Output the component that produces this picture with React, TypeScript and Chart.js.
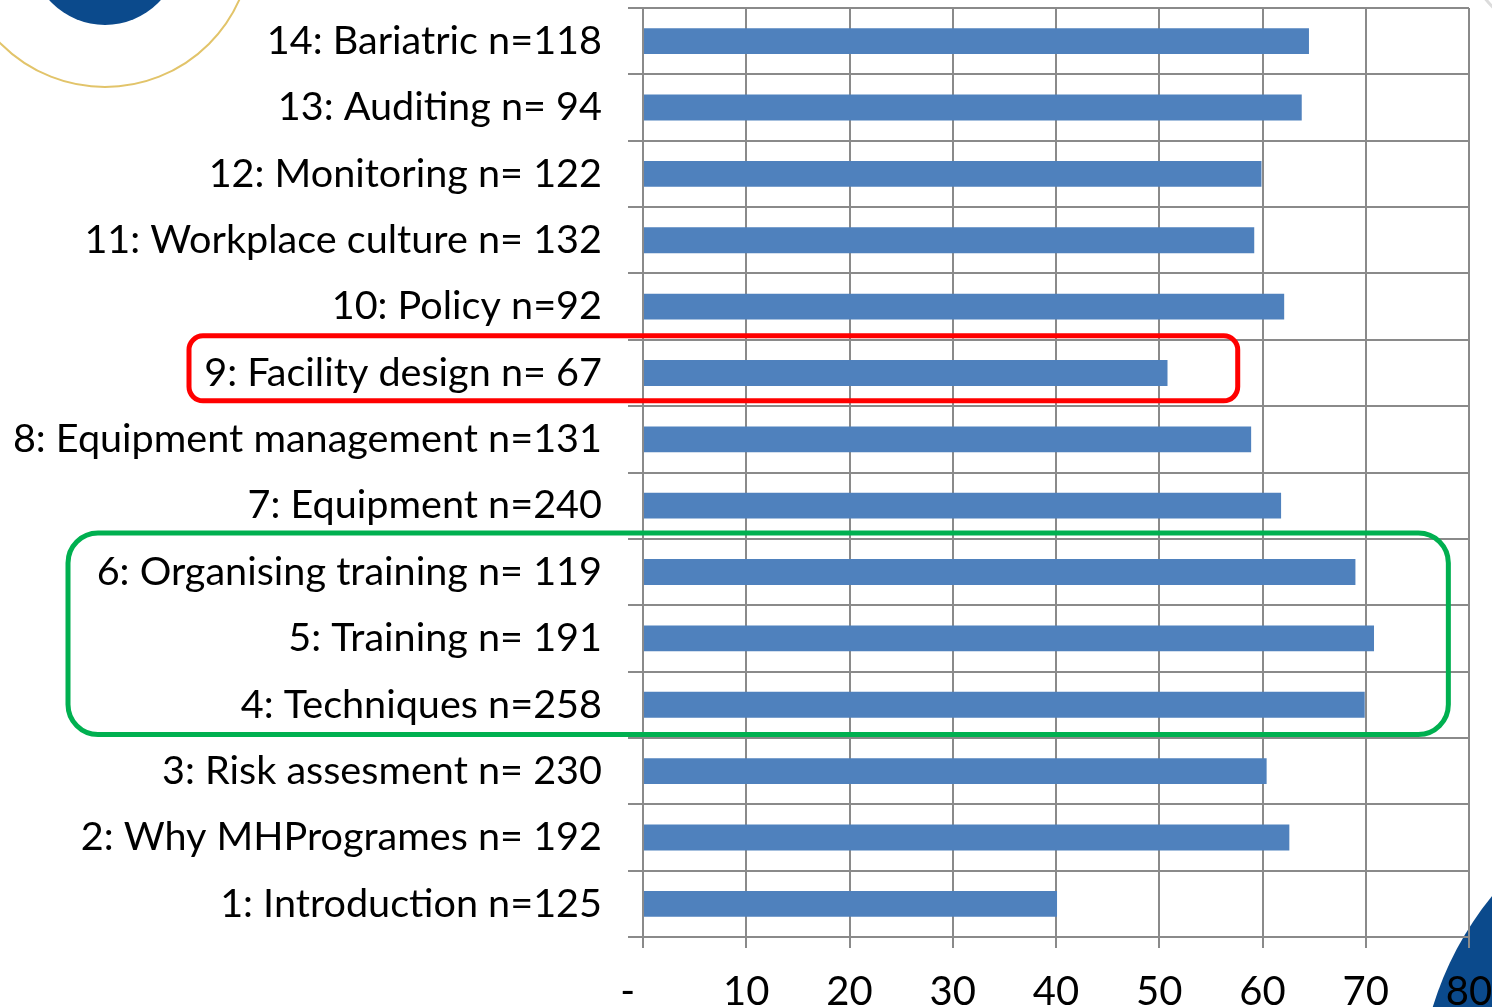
import React, { useEffect, useRef } from "react";
import { Chart, registerables } from "chart.js";

Chart.register(...registerables);

const categories: string[] = [
  "14: Bariatric n=118",
  "13: Auditing n= 94",
  "12: Monitoring n= 122",
  "11: Workplace culture n= 132",
  "10: Policy n=92",
  "9: Facility design n= 67",
  "8: Equipment management n=131",
  "7: Equipment n=240",
  "6: Organising training n= 119",
  "5: Training n= 191",
  "4: Techniques n=258",
  "3: Risk assesment n= 230",
  "2: Why MHProgrames n= 192",
  "1: Introduction n=125",
];

const scores: number[] = [64.5, 63.8, 59.9, 59.2, 62.1, 50.8, 58.9, 61.8, 69.0, 70.8, 69.9, 60.4, 62.6, 40.1];

const xTickLabels: string[] = ["-   ", "10", "20", "30", "40", "50", "60", "70", "80"];

// annotation groups (category labels boxed) and where their boxes end on the value axis
const redGroup: string[] = ["9: Facility design n= 67"];
const redBoxEnd = 57.6;
const greenGroup: string[] = ["6: Organising training n= 119", "5: Training n= 191", "4: Techniques n=258"];
const greenBoxEnd = 78;

const FONT = "Lato, 'Open Sans', sans-serif";
const GRID = "#8a8a8a";
const CANVAS_H = 1036;

function roundRect(ctx: CanvasRenderingContext2D, x: number, y: number, w: number, h: number, r: number) {
  ctx.beginPath();
  ctx.moveTo(x + r, y);
  ctx.lineTo(x + w - r, y);
  ctx.arcTo(x + w, y, x + w, y + r, r);
  ctx.lineTo(x + w, y + h - r);
  ctx.arcTo(x + w, y + h, x + w - r, y + h, r);
  ctx.lineTo(x + r, y + h);
  ctx.arcTo(x, y + h, x, y + h - r, r);
  ctx.lineTo(x, y + r);
  ctx.arcTo(x, y, x + r, y, r);
  ctx.closePath();
}

const decorPlugin = {
  id: "decor",
  beforeDraw(chart: any) {
    const ctx: CanvasRenderingContext2D = chart.ctx;
    ctx.save();
    ctx.fillStyle = "#ffffff";
    ctx.fillRect(0, 0, chart.width, chart.height);
    // top-left logo fragment
    ctx.beginPath();
    ctx.arc(105, -50, 75, 0, Math.PI * 2);
    ctx.fillStyle = "#0b4a8c";
    ctx.fill();
    ctx.beginPath();
    ctx.arc(105, -60, 147, 0, Math.PI * 2);
    ctx.strokeStyle = "#e2c46a";
    ctx.lineWidth = 2;
    ctx.stroke();
    // top-right faint arc
    ctx.beginPath();
    ctx.arc(1560, -60, 95, 0, Math.PI * 2);
    ctx.strokeStyle = "#dcdcdc";
    ctx.lineWidth = 3;
    ctx.stroke();
    // bottom-right blue shape
    ctx.beginPath();
    ctx.arc(1740, 1100, 321, 0, Math.PI * 2);
    ctx.fillStyle = "#0b4a8c";
    ctx.fill();
    ctx.restore();
  },
  afterDraw(chart: any) {
    const ctx: CanvasRenderingContext2D = chart.ctx;
    const x = chart.scales.x;
    const y = chart.scales.y;
    const left = chart.chartArea.left;
    const step = y.getPixelForValue(1) - y.getPixelForValue(0);
    const drawBox = (group: string[], end: number, leftOff: number, topOff: number, botOff: number, r: number, color: string) => {
      const idx = group.map((g) => categories.indexOf(g));
      const top = y.getPixelForValue(Math.min(...idx)) - step * topOff;
      const bot = y.getPixelForValue(Math.max(...idx)) + step * botOff;
      const lx = left - leftOff;
      const rx = x.getPixelForValue(end);
      ctx.save();
      ctx.strokeStyle = color;
      ctx.lineWidth = 5;
      roundRect(ctx, lx, top, rx - lx, bot - top, r);
      ctx.stroke();
      ctx.restore();
    };
    drawBox(redGroup, redBoxEnd, 454, 0.56, 0.42, 14, "#ff0000");
    drawBox(greenGroup, greenBoxEnd, 575, 0.59, 0.45, 30, "#00b050");
  },
};

export default function App() {
  const ref = useRef<HTMLCanvasElement | null>(null);
  useEffect(() => {
    if (!ref.current) return;
    document.body.style.overflow = "hidden";
    const chart = new Chart(ref.current, {
      type: "bar",
      data: {
        labels: categories,
        datasets: [
          {
            data: scores,
            backgroundColor: "#4f81bd",
            borderWidth: 0,
            barPercentage: 0.39,
            categoryPercentage: 1,
          },
        ],
      },
      options: {
        indexAxis: "y",
        animation: false,
        responsive: false,
        maintainAspectRatio: false,
        layout: { padding: { top: 8, right: 23, left: 0, bottom: 0 } },
        plugins: { legend: { display: false }, tooltip: { enabled: false } },
        scales: {
          x: {
            min: 0,
            max: 80,
            ticks: {
              stepSize: 10,
              color: "#000",
              font: { family: FONT, size: 40 },
              padding: 20,
              maxRotation: 0,
              autoSkip: false,
              callback: (_v: any, i: number) => xTickLabels[i],
            },
            grid: { color: GRID, lineWidth: 2, tickLength: 11 },
            border: { color: GRID, width: 2 },
            afterFit: (s: any) => {
              s.paddingLeft = 0;
              s.paddingRight = 0;
            },
          },
          y: {
            ticks: {
              color: "#000",
              font: { family: FONT, size: 39.6 },
              padding: 26,
              autoSkip: false,
            },
            grid: { color: GRID, lineWidth: 2, tickLength: 15, offset: true },
            border: { color: GRID, width: 2 },
            afterFit: (s: any) => {
              s.width = 643;
              s.paddingTop = 0;
              s.paddingBottom = 0;
            },
          },
        },
      },
      plugins: [decorPlugin],
    });
    return () => chart.destroy();
  }, []);
  return (
    <div style={{ position: "fixed", left: 0, top: 0, width: 1492, height: CANVAS_H }}>
      <canvas ref={ref} width={1492} height={CANVAS_H} style={{ width: 1492, height: CANVAS_H }} />
    </div>
  );
}
